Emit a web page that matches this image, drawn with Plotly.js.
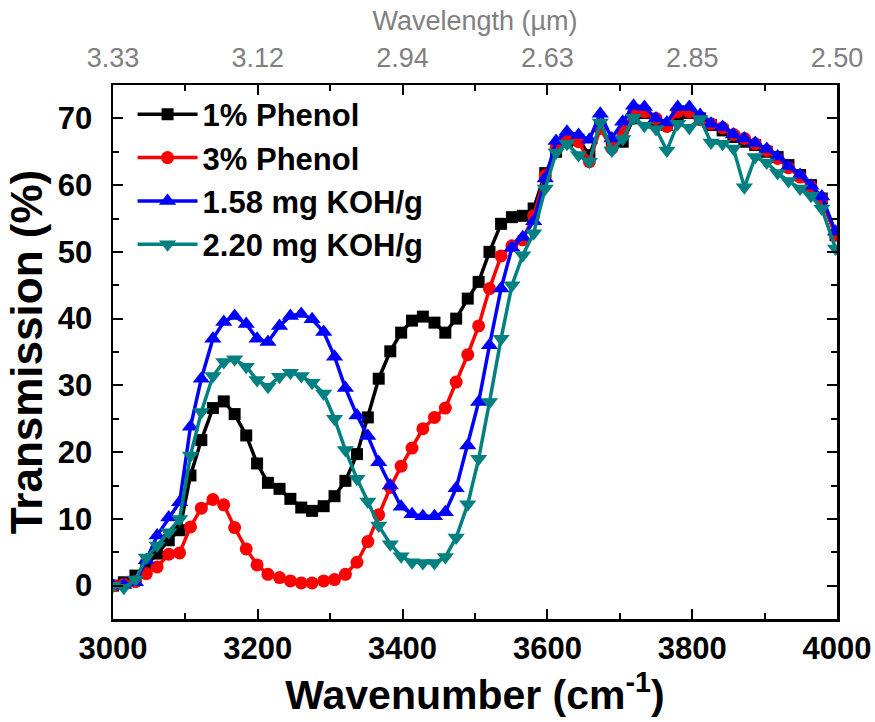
<!DOCTYPE html>
<html>
<head>
<meta charset="utf-8">
<script src="https://cdn.plot.ly/plotly-3.0.1.min.js"></script>
<style>
  html, body { margin: 0; padding: 0; background: #ffffff; }
  #chart { width: 875px; height: 722px; }
</style>
</head>
<body>
<div id="chart"></div>
<script>
// Sampled wavenumbers (cm^-1)
const wavenumber = [
  3000, 3015, 3031, 3046, 3061, 3077, 3092, 3107, 3122, 3138,
  3153, 3168, 3184, 3199, 3214, 3230, 3245, 3260, 3275, 3291,
  3306, 3321, 3337, 3352, 3367, 3383, 3398, 3413, 3428, 3444,
  3459, 3474, 3490, 3505, 3520, 3536, 3551, 3566, 3581, 3597,
  3612, 3627, 3643, 3658, 3673, 3689, 3704, 3719, 3734, 3750,
  3765, 3780, 3796, 3811, 3826, 3842, 3857, 3872, 3887, 3903,
  3918, 3933, 3949, 3964, 3979, 3998
];

// Transmission (%) for each sample
const phenol1 = [
  0, 0.5, 1.5, 3.0, 4.8, 6.8, 8.3, 16.5, 21.8, 26.6,
  27.6, 25.7, 22.5, 18.3, 15.4, 14.5, 13.0, 11.7, 11.2, 11.9,
  13.4, 15.7, 19.7, 25.2, 31.0, 35.1, 37.9, 39.7, 40.3, 39.4,
  37.9, 40.0, 43.0, 45.5, 50.0, 54.2, 55.2, 55.4, 56.5, 61.8,
  65.0, 66.5, 66.8, 64.5, 68.8, 66.0, 66.5, 70.0, 70.8, 69.5,
  69.0, 70.5, 70.8, 70.0, 69.0, 68.2, 67.2, 66.5, 66.0, 65.0,
  64.2, 63.0, 61.5, 60.0, 58.0, 52.5
];

const phenol3 = [
  0, 0.2, 0.6, 1.8, 2.8, 4.7, 4.9, 8.8, 11.6, 12.9,
  12.1, 8.7, 5.5, 3.1, 1.7, 1.2, 0.7, 0.4, 0.4, 0.7,
  0.9, 1.7, 3.5, 6.6, 10.6, 14.7, 17.9, 20.6, 23.5, 25.2,
  26.6, 30.5, 34.6, 38.9, 44.5, 49.4, 50.9, 51.8, 55.4, 61.4,
  65.5, 66.8, 66.5, 63.5, 68.5, 65.5, 68.0, 70.8, 71.0, 70.0,
  68.8, 71.0, 71.0, 69.8, 69.2, 68.6, 67.6, 67.0, 66.2, 65.2,
  64.0, 62.6, 61.2, 59.8, 58.0, 52.5
];

const koh158 = [
  0, 0.1, 0.5, 3.8, 7.5, 10.2, 12.5, 23.8, 31.0, 37.0,
  39.5, 40.4, 39.2, 37.0, 36.5, 38.9, 40.4, 40.7, 39.9, 38.0,
  34.3, 29.6, 25.5, 22.4, 18.5, 15.0, 11.8, 10.7, 10.4, 10.4,
  11.0, 14.6, 21.0, 27.5, 36.0, 44.5, 50.6, 52.2, 54.6, 61.0,
  66.6, 68.0, 67.5, 66.8, 70.7, 67.0, 69.5, 71.9, 71.7, 70.0,
  69.4, 71.7, 71.7, 70.5, 69.2, 68.7, 67.6, 67.0, 66.3, 65.4,
  64.3, 62.8, 61.5, 59.9, 58.3, 53.0
];

const koh220 = [
  0, -0.3, 0.9, 4.2, 6.0, 8.0, 10.0, 19.5, 26.0, 31.4,
  33.5, 33.9, 32.8, 30.8, 29.8, 31.3, 31.9, 31.4, 30.4, 28.8,
  25.0, 20.3, 16.0, 12.6, 9.0, 6.2, 4.4, 3.5, 3.4, 3.4,
  4.3, 7.2, 12.2, 19.0, 27.5, 37.0, 45.0, 49.5, 52.8, 59.5,
  64.9, 66.2, 64.5, 63.5, 69.4, 65.2, 66.9, 70.1, 68.9, 68.4,
  65.2, 69.2, 68.6, 69.9, 66.4, 66.2, 65.5, 59.7, 64.2, 63.4,
  61.8, 60.6, 59.5, 58.4, 56.5, 50.5
];

const seriesNames = ['1% Phenol', '3% Phenol', '1.58 mg KOH/g', '2.20 mg KOH/g'];
const seriesColors = ['#000000', '#ff0000', '#0000ff', '#008080'];
const seriesSymbols = ['square', 'circle', 'triangle-up', 'triangle-down'];
const seriesSizes = [12, 13, 15, 15];

// Bottom axis ticks and the matching wavelength labels on top
const bottomTicks = [3000, 3200, 3400, 3600, 3800, 4000];
const topTickText = ['3.33', '3.12', '2.94', '2.63', '2.85', '2.50'];

const seriesValues = [phenol1, phenol3, koh158, koh220];

const traces = seriesValues.map((vals, i) => ({
  type: 'scatter',
  mode: 'lines+markers',
  name: seriesNames[i],
  x: wavenumber,
  y: vals,
  line: { color: seriesColors[i], width: 3.5 },
  marker: { color: seriesColors[i], symbol: seriesSymbols[i], size: seriesSizes[i] }
}));

// empty trace that anchors the top wavelength axis
traces.push({
  type: 'scatter', mode: 'lines', x: [3000, 4000], y: [null, null],
  xaxis: 'x2', yaxis: 'y', showlegend: false, hoverinfo: 'skip'
});

const boldFont = 'Liberation Sans, Arial, sans-serif';

const layout = {
  width: 875,
  height: 722,
  paper_bgcolor: '#ffffff',
  plot_bgcolor: '#ffffff',
  margin: { l: 113, r: 38, t: 85, b: 103 },
  showlegend: true,
  legend: {
    x: 0.027, y: 0.995, xanchor: 'left', yanchor: 'top',
    bgcolor: 'rgba(0,0,0,0)',
    font: { family: boldFont, size: 31, color: '#000000', weight: 'bold' },
    itemwidth: 60
  },
  xaxis: {
    range: [3000, 4000],
    tickvals: bottomTicks,
    ticks: 'inside', ticklen: 10, tickwidth: 2, tickcolor: '#000000',
    minor: { dtick: 100, ticks: 'inside', ticklen: 6, tickwidth: 2, tickcolor: '#000000' },
    showline: true, linecolor: '#000000', linewidth: 2.5, mirror: true,
    showgrid: false, zeroline: false,
    tickfont: { family: boldFont, size: 31, color: '#000000', weight: 'bold' },
    title: {
      text: 'Wavenumber (cm<sup>-1</sup>)',
      font: { family: boldFont, size: 41, color: '#000000', weight: 'bold' },
      standoff: 10
    }
  },
  xaxis2: {
    overlaying: 'x', side: 'top', anchor: 'y',
    range: [3000, 4000],
    tickvals: bottomTicks, ticktext: topTickText,
    ticks: 'inside', ticklen: 10, tickwidth: 2, tickcolor: '#000000',
    minor: { dtick: 100, ticks: 'inside', ticklen: 6, tickwidth: 2, tickcolor: '#000000' },
    showline: false, showgrid: false, zeroline: false,
    ticklabelstandoff: 12,
    tickfont: { family: boldFont, size: 27, color: '#808080' },
    title: {
      text: 'Wavelength (µm)',
      font: { family: boldFont, size: 27, color: '#808080' },
      standoff: 4
    }
  },
  yaxis: {
    range: [-5, 75],
    dtick: 10, tick0: 0,
    ticks: 'inside', ticklen: 10, tickwidth: 2, tickcolor: '#000000',
    minor: { dtick: 5, ticks: 'inside', ticklen: 6, tickwidth: 2, tickcolor: '#000000' },
    showline: true, linecolor: '#000000', linewidth: 2.5, mirror: 'ticks',
    showgrid: false, zeroline: false,
    ticklabelstandoff: 12,
    tickfont: { family: boldFont, size: 31, color: '#000000', weight: 'bold' },
    title: {
      text: 'Transmission (%)',
      font: { family: boldFont, size: 44, color: '#000000', weight: 'bold' },
      standoff: 2
    }
  }
};

Plotly.newPlot('chart', traces, layout, { displayModeBar: false, staticPlot: true });
</script>
</body>
</html>
